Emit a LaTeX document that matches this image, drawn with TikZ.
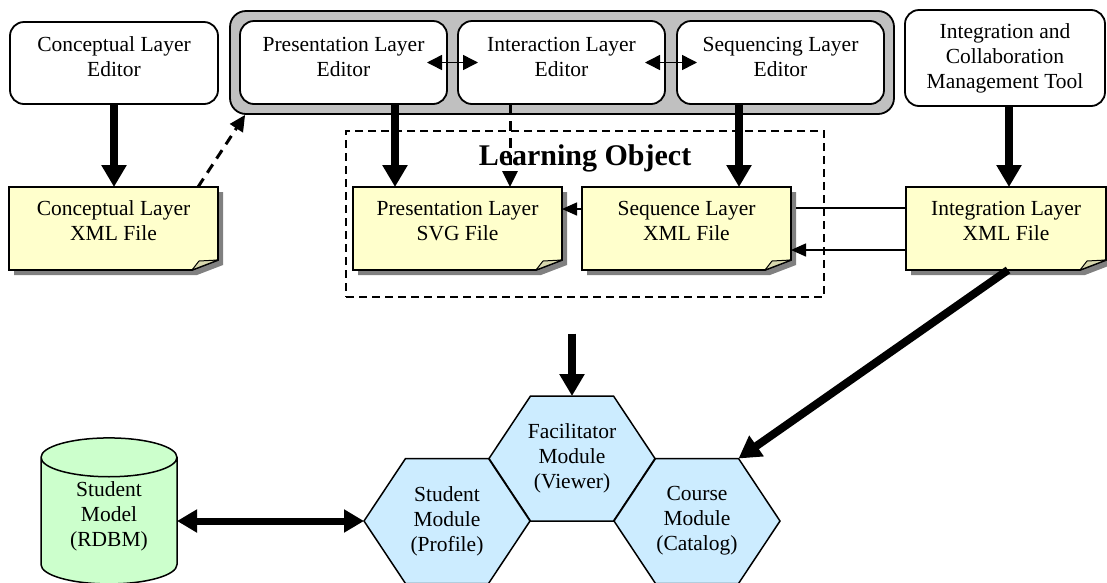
\documentclass[tikz,border=0pt]{standalone}
\usepackage{fontspec}
\setmainfont{Liberation Serif}
\usetikzlibrary{positioning,fit,backgrounds,shapes.geometric,arrows.meta}

\definecolor{fileyellow}{HTML}{FFFFCC}
\definecolor{foldtan}{HTML}{D8D8AE}
\definecolor{groupgray}{HTML}{C0C0C0}
\definecolor{modblue}{HTML}{CCECFF}
\definecolor{dbgreen}{HTML}{CCFFCC}
\definecolor{shadowgray}{HTML}{808080}

\tikzset{
  box/.style={font=\fontsize{21.5}{25}\selectfont, align=center, inner sep=0pt, outer sep=0pt},
  raised/.style={execute at end node={\rule[-#1]{0pt}{#1}}},
  editor/.style={box, draw, line width=1.8pt, rounded corners=14pt, fill=white,
    minimum width=207pt, minimum height=83pt},
  xmlfile/.style={box, minimum width=209pt, minimum height=83pt, raised=16pt},
  module/.style={box, minimum width=166pt, minimum height=125pt},
  bigarrow/.style={line width=8pt, -{Triangle[width=24pt,length=22pt]}},
  thinarrow/.style={line width=1.5pt, -{Triangle[width=13pt,length=15pt]}},
  dasharrow/.style={line width=3pt, dash pattern=on 10pt off 7pt, -{Triangle[width=15pt,length=16pt]}},
  swaparrow/.style={line width=1.5pt, {Triangle[width=15pt,length=15pt]}-{Triangle[width=15pt,length=15pt]}},
}

\begin{document}
\begin{tikzpicture}[x=1pt,y=-1pt]
  \useasboundingbox (0,0) rectangle (1107,582);

  % editors
  \node (cedit) at (114,63)     [editor, raised=12pt, minimum width=208pt, minimum height=82pt] {Conceptual Layer\\Editor};
  \node (pedit) at (343.5,62.5) [editor, raised=12pt] {Presentation Layer\\Editor};
  \node (iedit) at (561.5,62.5) [editor, raised=12pt] {Interaction Layer\\Editor};
  \node (sedit) at (780.5,62.5) [editor, raised=12pt] {Sequencing Layer\\Editor};
  \node (itool) at (1005,58)    [editor, minimum width=200pt, minimum height=96pt] {Integration and\\Collaboration\\Management Tool};

  % files
  \node (cfile) at (113.5,228.5) [xmlfile] {Conceptual Layer\\XML File};
  \node (pfile) at (457.5,228.5) [xmlfile] {Presentation Layer\\SVG File};
  \node (sfile) at (686.5,228.5) [xmlfile] {Sequence Layer\\XML File};
  \node (ifile) at (1006,228.5)  [xmlfile, minimum width=200pt] {Integration Layer\\XML File};

  % learning object
  \node (lobj) at (585,214) [draw, line width=1.2pt, dash pattern=on 8pt off 5pt,
    minimum width=478pt, minimum height=166pt] {};
  \node (lotitle) at ([yshift=-28pt]lobj.north) [font=\fontsize{30}{34}\selectfont\bfseries] {Learning Object};

  % modules
  \node (fac) at (572,458.5) [module] {Facilitator\\Module\\(Viewer)};
  \node (stu) at (447,521)   [module] {Student\\Module\\(Profile)};
  \node (crs) at (697,521)   [module] {Course\\Module\\(Catalog)};
  \node (db) at (109,521) [box, raised=13pt, cylinder, shape border rotate=90, aspect=0.5, draw, line width=1.5pt,
    fill=dbgreen, minimum width=136pt, minimum height=146pt] {Student\\Model\\(RDBM)};

  \begin{scope}[on background layer]
    \node (tools) [fit=(pedit)(iedit)(sedit), draw, line width=1.8pt, fill=groupgray,
      rounded corners=16pt, inner sep=10pt] {};
    \foreach \f in {cfile,pfile,sfile,ifile} {
      \fill[shadowgray] ([xshift=5pt,yshift=-5pt]\f.north west) -- ([xshift=5pt,yshift=-5pt]\f.north east)
        -- ([xshift=5pt,yshift=5pt]\f.south east) -- ([xshift=-21pt,yshift=-5pt]\f.south east)
        -- ([xshift=5pt,yshift=-5pt]\f.south west) -- cycle;
      \filldraw[fill=fileyellow, line width=1.8pt] (\f.north west) -- (\f.north east)
        -- ([yshift=10pt]\f.south east) -- ([xshift=-26pt]\f.south east) -- (\f.south west) -- cycle;
      \filldraw[fill=foldtan, line width=1pt, line join=round] ([xshift=-26pt]\f.south east)
        -- ([yshift=10pt]\f.south east) -- ([xshift=-19pt,yshift=9pt]\f.south east) -- cycle;
    }
    \foreach \m in {fac,stu,crs}
      \filldraw[fill=modblue, line width=1.5pt] ([xshift=41.5pt]\m.north west) -- ([xshift=-41.5pt]\m.north east)
        -- (\m.east) -- ([xshift=-41.5pt]\m.south east) -- ([xshift=41.5pt]\m.south west) -- (\m.west) -- cycle;
  \end{scope}

  % connectors
  \draw[bigarrow] (cedit.south) -- (cedit.south |- cfile.north);
  \draw[bigarrow] ([xshift=51.5pt]pedit.south) -- ([xshift=51.5pt]pedit.south |- pfile.north);
  \draw[dasharrow] ([xshift=-51.5pt]iedit.south) -- ([xshift=-51.5pt]iedit.south |- pfile.north);
  \draw[bigarrow] ([xshift=-41.5pt]sedit.south) -- ([xshift=-41.5pt]sedit.south |- sfile.north);
  \draw[bigarrow] ([xshift=4pt]itool.south) -- ([xshift=4pt]itool.south |- ifile.north);
  \draw[dasharrow] ([xshift=-20pt]cfile.north east) -- ([xshift=16pt]tools.south west);
  \draw[swaparrow] ([xshift=-20pt]pedit.east) -- ([xshift=20pt]iedit.west);
  \draw[swaparrow] ([xshift=-20pt]iedit.east) -- ([xshift=20pt]sedit.west);
  \draw[thinarrow] ([yshift=19.5pt]sfile.west) -- ([yshift=19.5pt]pfile.east);
  \draw[line width=1.5pt] ([yshift=20.5pt]ifile.west) -- ([xshift=5pt,yshift=20.5pt]sfile.east);
  \draw[thinarrow] ([yshift=-21.5pt]ifile.west) -- ([yshift=-21.5pt]sfile.east);
  \draw[bigarrow] ([yshift=-36pt]fac.north |- lobj.south) -- (fac.north);
  \draw[bigarrow] ([xshift=2pt]ifile.south) -- ([xshift=-41.5pt]crs.north east);
  \draw[line width=7pt, {Triangle[width=22pt,length=20pt]}-{Triangle[width=22pt,length=20pt]}]
    (stu.west -| db.east) -- (stu.west);
\end{tikzpicture}
\end{document}
